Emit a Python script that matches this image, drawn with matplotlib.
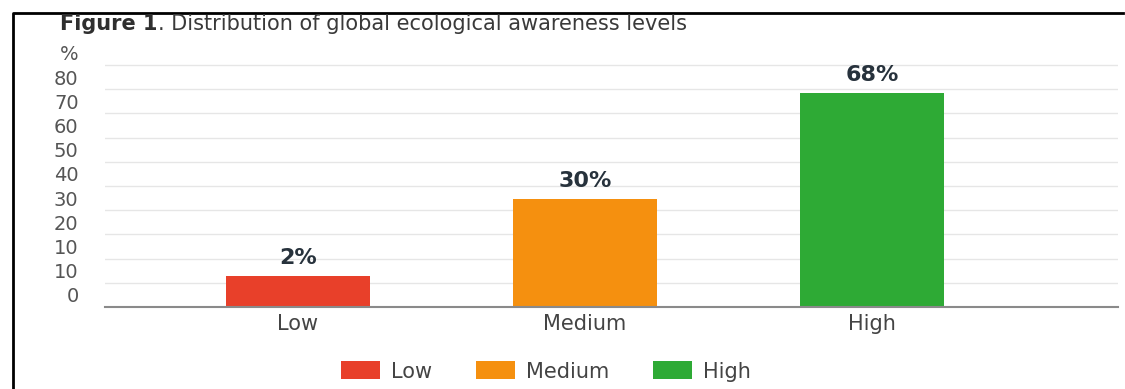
import matplotlib.pyplot as plt
import numpy as np
from matplotlib.lines import Line2D
from matplotlib.patches import Patch

# data (bar heights in axis units, labels as printed)
levels = ["Low", "Medium", "High"]
heights = [12.8, 44.5, 88.3]
value_labels = ["2%", "30%", "68%"]
colors = ["#e8402a", "#f5900f", "#2eaa35"]

# y tick labels as printed on the chart (bottom to top)
ytick_pos = [5, 15, 25, 35, 45, 55, 65, 75, 85, 95, 105]
ytick_txt = ["0", "10", "10", "20", "30", "40", "50", "60", "70", "80", "%"]
grid_pos = [10, 20, 30, 40, 50, 60, 70, 80, 90, 100]

fig = plt.figure(figsize=(11.25, 3.89), dpi=100)
ax = fig.add_axes([0.0933, 0.2108, 0.9005, 0.6594])

x = np.arange(len(levels))
ax.bar(x, heights, width=0.5, color=colors, zorder=3)
for xi, h, t in zip(x, heights, value_labels):
    ax.text(xi, h + 3.5, t, ha="center", va="bottom", fontsize=16,
            fontweight="bold", color="#27323c")

ax.set_xlim(-0.672, 2.857)
ax.set_ylim(0, 106)
ax.set_xticks(x)
ax.set_xticklabels(levels, fontsize=15, color="#444444")
ax.set_yticks(ytick_pos)
ax.set_yticklabels(ytick_txt, fontsize=14, color="#555555")
ax.set_yticks(grid_pos, minor=True)
ax.yaxis.grid(True, which="minor", color="#e6e6e6", linewidth=1.0, zorder=0)
ax.tick_params(axis="y", which="both", length=0, pad=19)
ax.tick_params(axis="x", length=0, pad=5)
for s in ["top", "right", "left"]:
    ax.spines[s].set_visible(False)
ax.spines["bottom"].set_color("#8a8a8a")
ax.spines["bottom"].set_linewidth(1.5)
ax.spines["bottom"].set_zorder(4)

handles = [Patch(facecolor=c, label=l) for c, l in zip(colors, levels)]
leg = fig.legend(handles=handles, loc="center", bbox_to_anchor=(0.485, 0.045),
                 ncol=3, frameon=False, fontsize=15, handlelength=1.9,
                 handleheight=0.95, columnspacing=2.1, handletextpad=0.5)
for t in leg.get_texts():
    t.set_color("#444444")

# frame lines at the left and top of the picture
fx = 13 / 1125
fy = 1 - 13 / 389
fig.add_artist(Line2D([fx, fx, 0.998], [0, fy, fy], color="black", linewidth=2.0))

# title: bold "Figure 1" followed by normal text
t1 = fig.text(60 / 1125, 1 - 24 / 389, "Figure 1", fontsize=15, fontweight="bold",
              color="#2f2f2f", va="center", ha="left")
fig.canvas.draw()
bb = t1.get_window_extent()
fig.text(bb.x1 / 1125, 1 - 24 / 389, ". Distribution of global ecological awareness levels",
         fontsize=15, color="#3a3a3a", va="center", ha="left")

plt.savefig("out.png", dpi=100)
